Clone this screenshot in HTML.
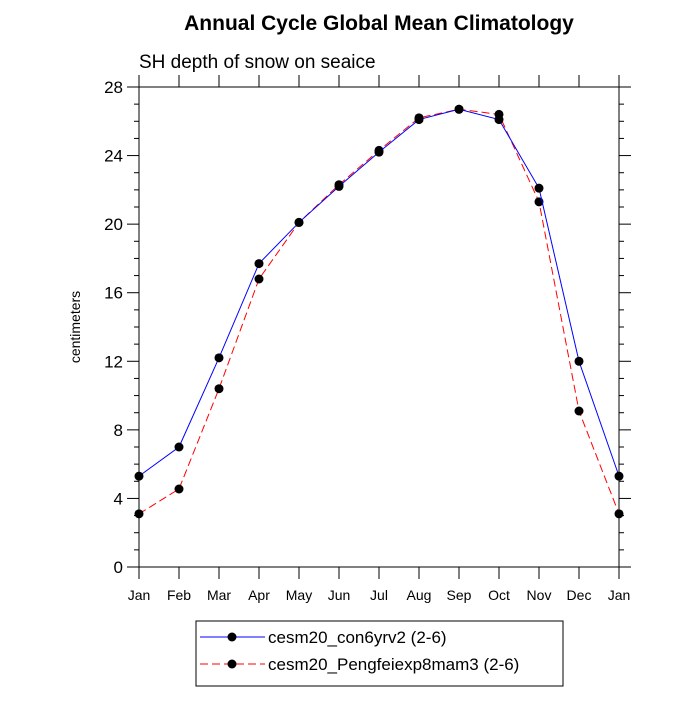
<!DOCTYPE html>
<html><head><meta charset="utf-8"><style>
body{margin:0;background:#fff}
text{font-family:"Liberation Sans",sans-serif}
</style></head><body>
<svg id="chart" width="700" height="700" viewBox="0 0 700 700" xmlns="http://www.w3.org/2000/svg">
<text x="379" y="30" text-anchor="middle" font-size="21" font-weight="bold">Annual Cycle Global Mean Climatology</text>
<text x="139" y="68" font-size="19">SH depth of snow on seaice</text>
<text transform="translate(80,327) rotate(-90)" text-anchor="middle" font-size="14">centimeters</text>
<g id="axes"></g>
<g id="series"></g>
<g>
<rect x="196" y="621" width="367" height="65" fill="#fff" stroke="#000" stroke-width="1"/>
<line x1="200" y1="637" x2="265" y2="637" stroke="#0000ff" stroke-width="1"/>
<circle cx="232" cy="637" r="4.5" fill="#000"/>
<text x="268" y="643" font-size="17">cesm20_con6yrv2 (2-6)</text>
<line x1="200" y1="664" x2="265" y2="664" stroke="#ff0000" stroke-width="1" stroke-dasharray="8,4"/>
<circle cx="232" cy="664" r="4.5" fill="#000"/>
<text x="268" y="670" font-size="17">cesm20_Pengfeiexp8mam3 (2-6)</text>
</g>
</svg>
<script>
const months=["Jan","Feb","Mar","Apr","May","Jun","Jul","Aug","Sep","Oct","Nov","Dec","Jan"];
const con6yrv2=[5.3,7.0,12.2,17.7,20.1,22.2,24.2,26.1,26.7,26.1,22.1,12.0,5.3];
const pengfei=[3.1,4.55,10.4,16.8,20.1,22.3,24.3,26.2,26.7,26.4,21.3,9.1,3.1];
const yTicks=[0,4,8,12,16,20,24,28];
const yMax=28;
const NS="http://www.w3.org/2000/svg";
const L=139,R=619,T=87,B=567;
const xs=i=>L+i*(R-L)/(months.length-1);
const ys=v=>B-v*(B-T)/yMax;
function mk(tag,attrs,parent){const e=document.createElementNS(NS,tag);for(const k in attrs)e.setAttribute(k,attrs[k]);parent.appendChild(e);return e;}
const ax=document.getElementById('axes');
const frame=mk('rect',{x:L,y:T,width:R-L,height:B-T,fill:'none',stroke:'#000','stroke-width':1},ax);


for(let v=0;v<=yMax;v++){
  const y=ys(v),len=(v%4===0)?12:5;
  mk('line',{x1:L,y1:y,x2:L-len,y2:y,stroke:'#000'},ax);
  mk('line',{x1:R,y1:y,x2:R+len,y2:y,stroke:'#000'},ax);
}
yTicks.forEach(v=>{
  const t=mk('text',{x:L-16,y:ys(v)+6,'text-anchor':'end','font-size':17},ax);
  t.textContent=v;
  
  
});
months.forEach((m,i)=>{
  const x=xs(i);
  mk('line',{x1:x,y1:B,x2:x,y2:B+12,stroke:'#000'},ax);
  mk('line',{x1:x,y1:T,x2:x,y2:T-12,stroke:'#000'},ax);
  const t=mk('text',{x:x,y:B+33,'text-anchor':'middle','font-size':14},ax);
  t.textContent=m;
  
  
});
const sg=document.getElementById('series');
function draw(vals,color,dash,name){
  const p=mk('polyline',{points:vals.map((v,i)=>xs(i)+','+ys(v)).join(' '),fill:'none',stroke:color,'stroke-width':1,'stroke-dasharray':dash},sg);
  
  
  vals.forEach((v,i)=>{
    const c=mk('circle',{cx:xs(i),cy:ys(v),r:4.5,fill:'#000'},sg);
    
    
  });
}
draw(pengfei,'#ff0000','8,4','pengfei');
draw(con6yrv2,'#0000ff','none','con6yrv2');
</script>
</body></html>
